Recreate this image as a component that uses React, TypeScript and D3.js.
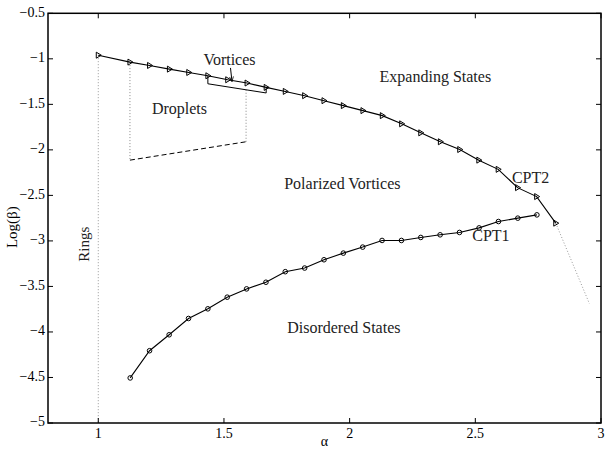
import * as d3 from "d3";
import { useEffect, useRef } from "react";

// upper boundary (triangles)
const upperAlpha = [1.0, 1.126, 1.204, 1.283, 1.36, 1.436, 1.515, 1.592, 1.668, 1.744, 1.821, 1.898, 1.975, 2.053, 2.13, 2.207, 2.283, 2.361, 2.438, 2.514, 2.591, 2.668, 2.744, 2.82];
const upperLogBeta = [-0.96, -1.036, -1.073, -1.113, -1.15, -1.186, -1.23, -1.266, -1.314, -1.358, -1.405, -1.46, -1.514, -1.569, -1.624, -1.714, -1.813, -1.911, -1.996, -2.113, -2.214, -2.415, -2.513, -2.805];

// lower boundary (circles)
const lowerAlpha = [1.127, 1.204, 1.282, 1.359, 1.436, 1.513, 1.59, 1.667, 1.744, 1.821, 1.898, 1.975, 2.052, 2.129, 2.206, 2.283, 2.36, 2.437, 2.515, 2.592, 2.669, 2.745];
const lowerLogBeta = [-4.505, -4.206, -4.031, -3.852, -3.746, -3.618, -3.527, -3.454, -3.338, -3.298, -3.207, -3.134, -3.068, -2.995, -2.995, -2.962, -2.933, -2.907, -2.857, -2.787, -2.75, -2.714];

// guide lines
const ringsLine = [[1.0, -0.96], [1.0, -5]];
const tailLine = [[2.82, -2.805], [2.954, -3.69]];
const dropletLeft = [[1.126, -1.036], [1.126, -2.113]];
const dropletBottom = [[1.126, -2.113], [1.588, -1.911]];
const dropletRight = [[1.588, -1.911], [1.588, -1.34]];
const vorticesBracket = [[1.436, -1.186], [1.436, -1.274], [1.668, -1.375], [1.668, -1.314]];
const vorticesArrow = [[1.526, -1.1], [1.532, -1.25]];

const xTicks = [1, 1.5, 2, 2.5, 3];
const yTicks = [-5, -4.5, -4, -3.5, -3, -2.5, -2, -1.5, -1, -0.5];

const labels = [
  { text: "Vortices", a: 1.522, b: -1.029 },
  { text: "Droplets", a: 1.323, b: -1.566 },
  { text: "Expanding States", a: 2.341, b: -1.211 },
  { text: "Polarized Vortices", a: 1.971, b: -2.39 },
  { text: "CPT2", a: 2.72, b: -2.324 },
  { text: "CPT1", a: 2.562, b: -2.965 },
  { text: "Disordered States", a: 1.977, b: -3.973 },
];

export default function App() {
  const ref = useRef<SVGSVGElement>(null);

  useEffect(() => {
    const svg = d3.select(ref.current);
    svg.selectAll("*").remove();

    const width = 616;
    const height = 449;
    const left = 48, right = 601, top = 13.3, bottom = 423;
    const font = "'Liberation Serif', 'DejaVu Serif', serif";

    svg.attr("width", width).attr("height", height);

    const x = d3.scaleLinear().domain([0.8, 3]).range([left, right]);
    const y = d3.scaleLinear().domain([-5, -0.5]).range([bottom, top]);
    const fmt = (d: number) => (d < 0 ? "\u2212" : "") + Math.abs(d);

    svg.append("rect").attr("width", width).attr("height", height).attr("fill", "white");

    const line = d3.line<number[]>().x(d => x(d[0])).y(d => y(d[1]));

    // dotted / dashed guides
    [ringsLine, tailLine].forEach(pts => {
      svg.append("path").attr("d", line(pts)).attr("fill", "none")
        .attr("stroke", "#999").attr("stroke-width", 1).attr("stroke-dasharray", "1,2");
    });
    [dropletLeft, dropletRight].forEach(pts => {
      svg.append("path").attr("d", line(pts)).attr("fill", "none")
        .attr("stroke", "#888").attr("stroke-width", 1).attr("stroke-dasharray", "1,2");
    });
    svg.append("path").attr("d", line(dropletBottom)).attr("fill", "none")
      .attr("stroke", "black").attr("stroke-width", 1).attr("stroke-dasharray", "5,3");
    svg.append("path").attr("d", line(vorticesBracket)).attr("fill", "none")
      .attr("stroke", "black").attr("stroke-width", 1);

    // arrow for Vortices label
    svg.append("defs").append("marker")
      .attr("id", "arr").attr("viewBox", "0 0 10 10").attr("refX", 10).attr("refY", 5)
      .attr("markerWidth", 5).attr("markerHeight", 5).attr("orient", "auto")
      .append("path").attr("d", "M0,1 L10,5 L0,9").attr("fill", "none").attr("stroke", "black").attr("stroke-width", 1.5);
    svg.append("path").attr("d", line(vorticesArrow)).attr("fill", "none")
      .attr("stroke", "black").attr("stroke-width", 1).attr("marker-end", "url(#arr)");

    // curves
    const upper = upperAlpha.map((a, i) => [a, upperLogBeta[i]]);
    const lower = lowerAlpha.map((a, i) => [a, lowerLogBeta[i]]);
    svg.append("path").attr("d", line(upper)).attr("fill", "none").attr("stroke", "black").attr("stroke-width", 1.1);
    svg.append("path").attr("d", line(lower)).attr("fill", "none").attr("stroke", "black").attr("stroke-width", 1.1);

    svg.append("g").selectAll("path").data(upper).join("path")
      .attr("d", "M-2,-3 L3,0 L-2,3 Z")
      .attr("transform", d => `translate(${x(d[0])},${y(d[1])})`)
      .attr("fill", "none").attr("stroke", "black").attr("stroke-width", 1);

    svg.append("g").selectAll("circle").data(lower).join("circle")
      .attr("cx", d => x(d[0])).attr("cy", d => y(d[1])).attr("r", 2.3)
      .attr("fill", "none").attr("stroke", "black").attr("stroke-width", 1);

    // labels
    svg.append("g").selectAll("text").data(labels).join("text")
      .attr("x", d => x(d.a)).attr("y", d => y(d.b))
      .attr("text-anchor", "middle").attr("dominant-baseline", "middle")
      .style("font-family", font).style("font-size", "16px").attr("fill", "#222")
      .text(d => d.text);

    svg.append("text")
      .attr("transform", `translate(${x(0.948)},${y(-3.036)}) rotate(-90)`)
      .attr("text-anchor", "middle").attr("dominant-baseline", "middle")
      .style("font-family", font).style("font-size", "15px").attr("fill", "#222")
      .text("Rings");

    // box with inward ticks on all sides
    const axisG = svg.append("g");
    axisG.append("rect").attr("x", left).attr("y", top).attr("width", right - left).attr("height", bottom - top)
      .attr("fill", "none").attr("stroke", "black").attr("stroke-width", 1.5);

    xTicks.forEach(t => {
      axisG.append("line").attr("x1", x(t)).attr("x2", x(t)).attr("y1", bottom).attr("y2", bottom - 5).attr("stroke", "black");
      axisG.append("line").attr("x1", x(t)).attr("x2", x(t)).attr("y1", top).attr("y2", top + 5).attr("stroke", "black");
      axisG.append("text").attr("x", x(t)).attr("y", bottom + 15).attr("text-anchor", "middle")
        .style("font-family", font).style("font-size", "14px").text(fmt(t));
    });
    yTicks.forEach(t => {
      axisG.append("line").attr("x1", left).attr("x2", left + 5).attr("y1", y(t)).attr("y2", y(t)).attr("stroke", "black");
      axisG.append("line").attr("x1", right).attr("x2", right - 5).attr("y1", y(t)).attr("y2", y(t)).attr("stroke", "black");
      axisG.append("text").attr("x", left - 3).attr("y", y(t)).attr("text-anchor", "end").attr("dominant-baseline", "middle")
        .style("font-family", font).style("font-size", "14px").text(fmt(t));
    });

    svg.append("text").attr("x", (left + right) / 2).attr("y", 446).attr("text-anchor", "middle")
      .style("font-family", font).style("font-size", "14px").text("\u03b1");
    svg.append("text")
      .attr("transform", `translate(14,${(top + bottom) / 2 + 9}) rotate(-90)`)
      .attr("text-anchor", "middle").attr("dominant-baseline", "middle")
      .style("font-family", font).style("font-size", "15px").text("Log(\u03b2)");
  }, []);

  return (
    <div style={{ position: "absolute", left: 0, top: 0 }}>
      <svg ref={ref}></svg>
    </div>
  );
}
